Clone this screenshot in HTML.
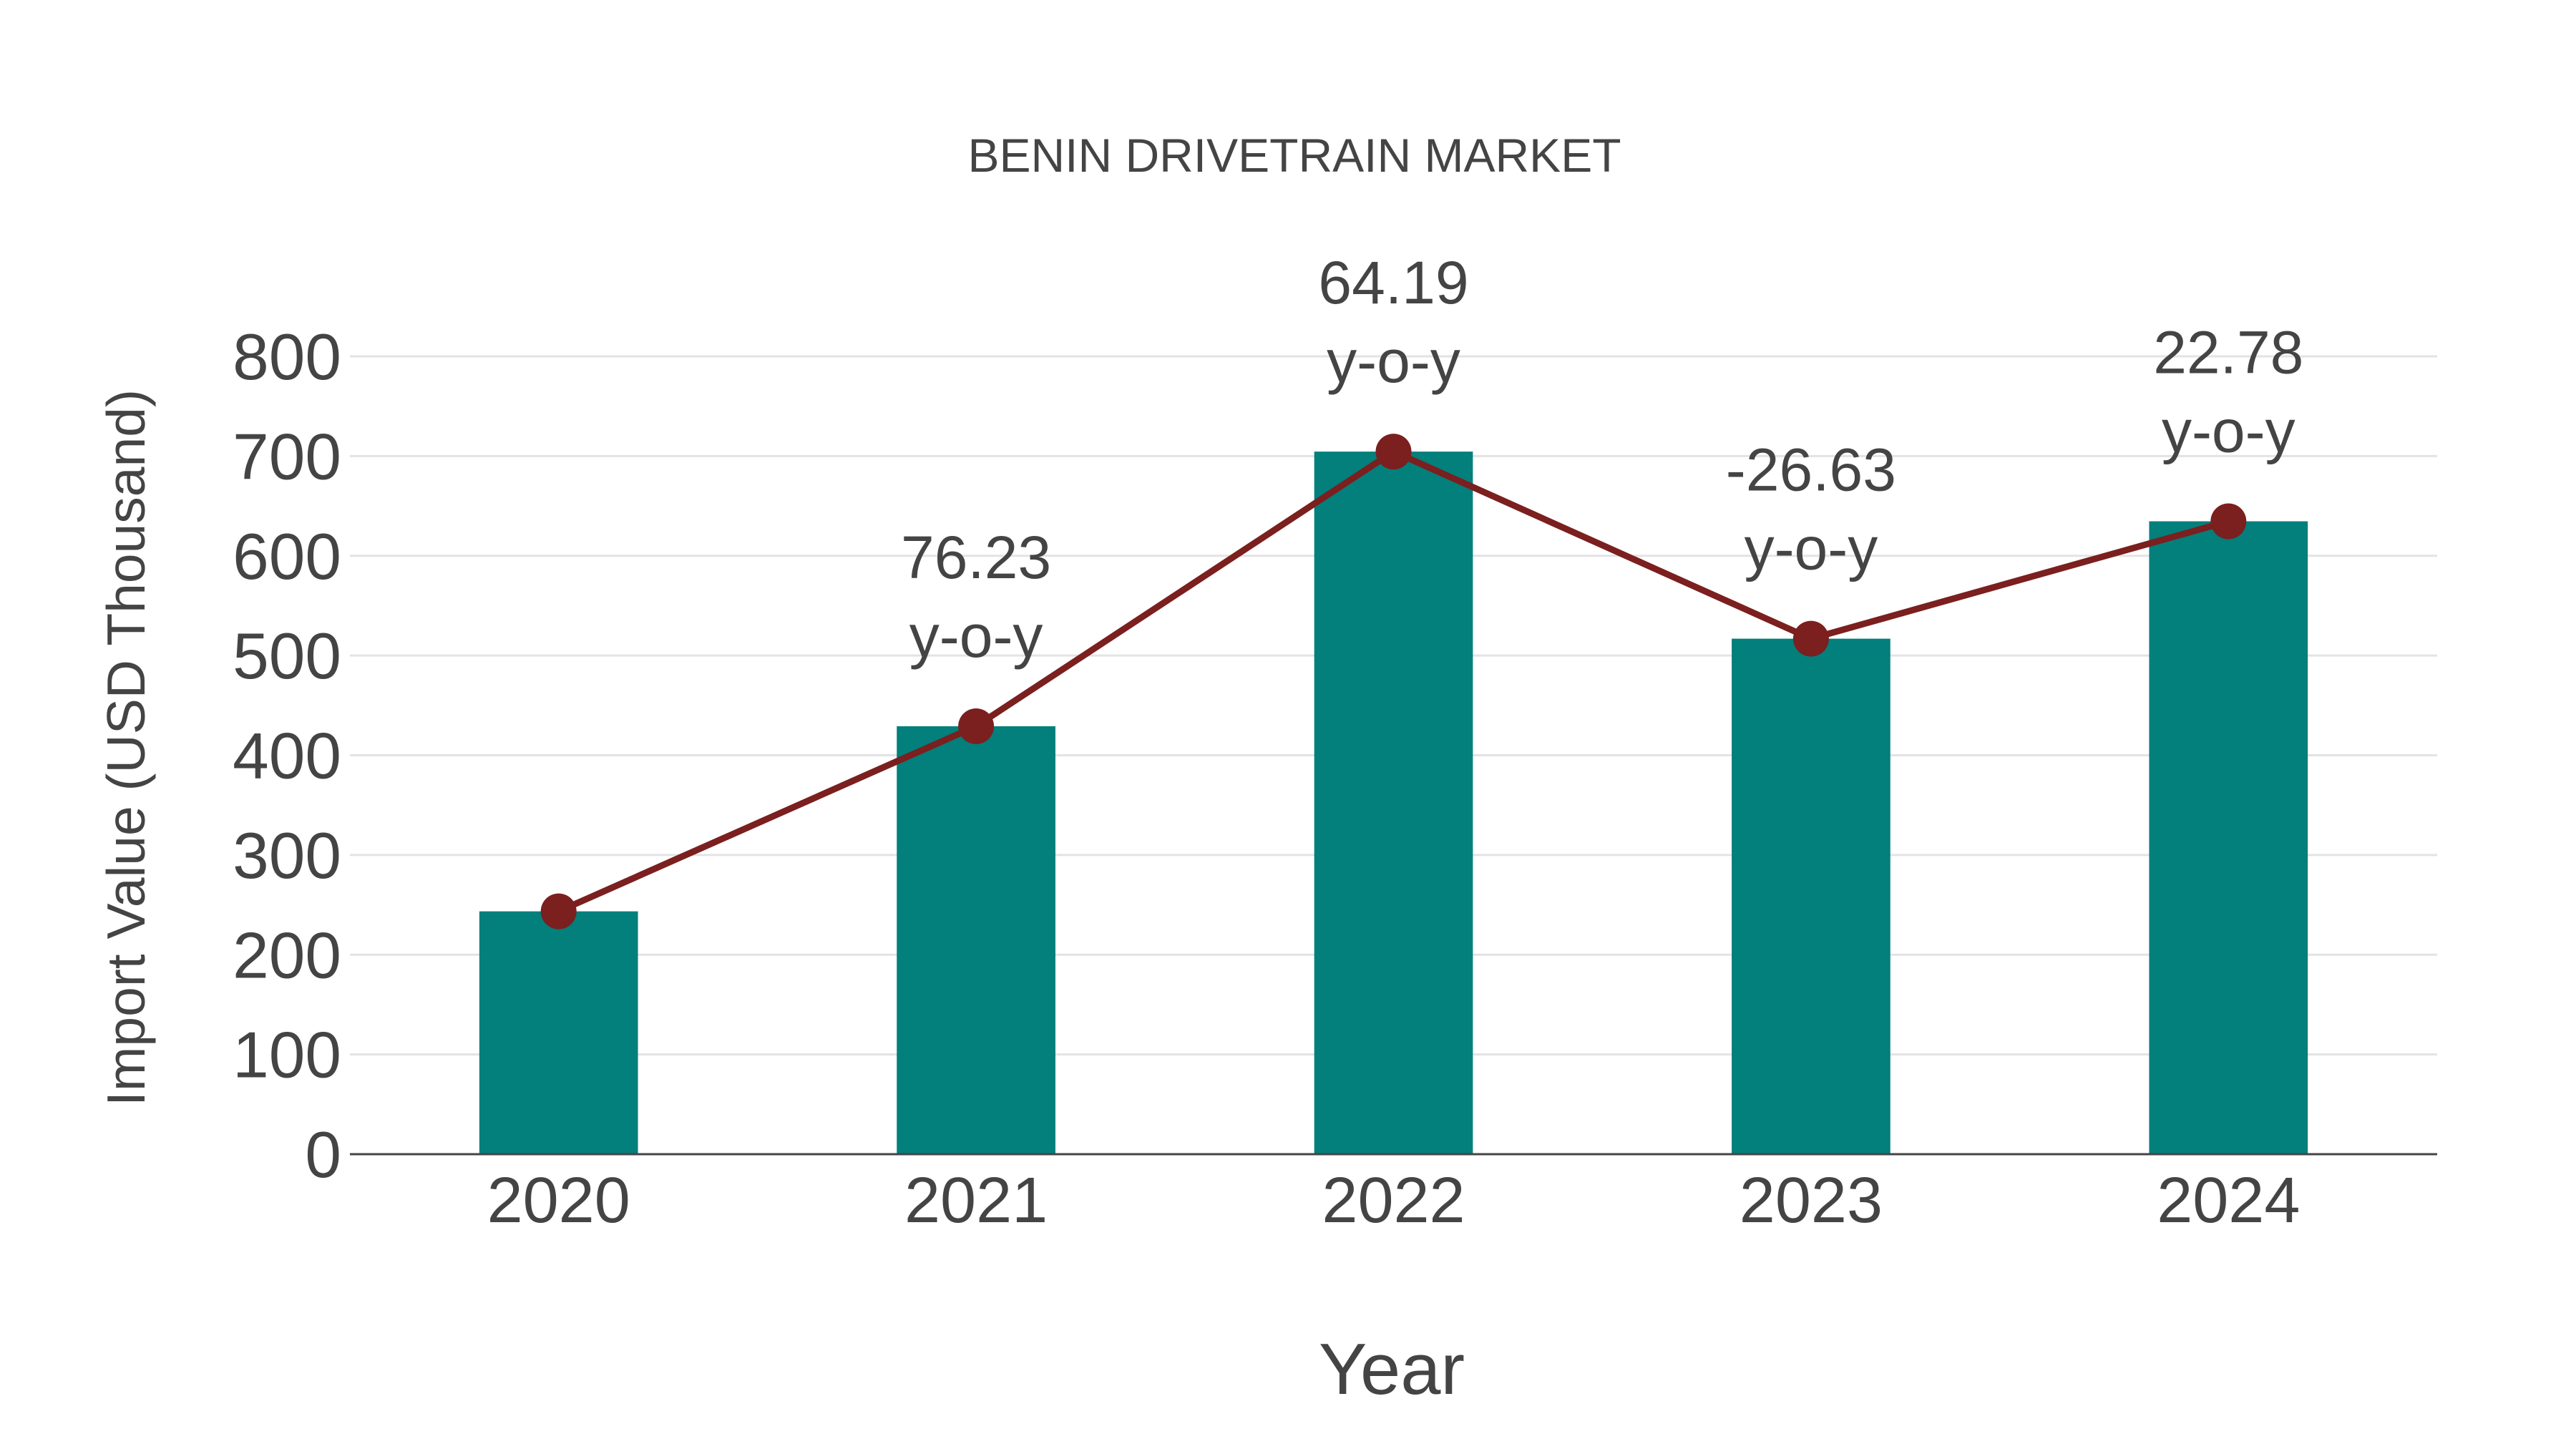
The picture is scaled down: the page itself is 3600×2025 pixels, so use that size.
<!DOCTYPE html>
<html><head><meta charset="utf-8"><style>
html,body{margin:0;padding:0;background:#fff;}
svg{display:block;font-family:"Liberation Sans",Arial,sans-serif;}
</style></head><body>
<svg id="chart" width="3600" height="2025" viewBox="0 0 3600 2025" xmlns="http://www.w3.org/2000/svg">
<rect width="3600" height="2025" fill="#fff"/>
<text x="1809" y="240" font-size="66" fill="#444" text-anchor="middle">BENIN DRIVETRAIN MARKET</text>
<g id="grid"></g>
<g id="yticks"></g>
<g id="bars"></g>
<line x1="489" x2="3406" y1="1613" y2="1613" stroke="#444" stroke-width="3"/>
<g id="xticks"></g>
<g id="line"></g>
<g id="annots"></g>
<text transform="translate(202,1045) rotate(-90)" font-size="75" fill="#444" text-anchor="middle">Import Value (USD Thousand)</text>
<text x="1945" y="1948" font-size="101" fill="#444" text-anchor="middle">Year</text>
</svg>
<script>
const categories = ["2020","2021","2022","2023","2024"];
const values = [243.5, 429.1, 704.5, 516.9, 634.6];
const yoyLabels = ["", "76.23", "64.19", "-26.63", "22.78"];
const yTicks = [0,100,200,300,400,500,600,700,800];

const NS="http://www.w3.org/2000/svg";
const left=489, right=3406, y0=1613, yTop=498, yMax=800;
const band=(right-left)/categories.length;
const xc=i=>left+band*(i+0.5);
const ys=v=>y0-(v/yMax)*(y0-yTop);
function mk(tag,attrs,parent){const e=document.createElementNS(NS,tag);for(const k in attrs)e.setAttribute(k,attrs[k]);parent.appendChild(e);return e;}
const grid=document.getElementById('grid'),yt=document.getElementById('yticks');
yTicks.forEach(t=>{
  if(t>0){const l=mk('line',{x1:left,x2:right,y1:ys(t),y2:ys(t),stroke:'#e3e3e3','stroke-width':3},grid);
  
  }
  const tx=mk('text',{x:left-12,y:ys(t)+32,'font-size':91,fill:'#444','text-anchor':'end'},yt);
  tx.textContent=t;
  
  
});
const bars=document.getElementById('bars'),xt=document.getElementById('xticks');
const bw=band*0.38;
categories.forEach((c,i)=>{
  const r=mk('rect',{x:xc(i)-bw/2,y:ys(values[i]),width:bw,height:y0-ys(values[i]),fill:'#037f7c'},bars);
  
  
  const t=mk('text',{x:xc(i),y:1708,'font-size':90,fill:'#444','text-anchor':'middle'},xt);
  t.textContent=c;
  
  
});
const lg=document.getElementById('line');
const pl=mk('polyline',{points:values.map((v,i)=>xc(i)+','+ys(v)).join(' '),fill:'none',stroke:'#7b1f1f','stroke-width':9,'stroke-linejoin':'round'},lg);


const an=document.getElementById('annots');
values.forEach((v,i)=>{
  const c=mk('circle',{cx:xc(i),cy:ys(v),r:25,fill:'#7b1f1f'},lg);
  
  
  if(yoyLabels[i]){
    const t1=mk('text',{x:xc(i),y:ys(v)-207,'font-size':84,fill:'#444','text-anchor':'middle'},an);
    t1.textContent=yoyLabels[i];
    
    
    const t2=mk('text',{x:xc(i),y:ys(v)-97,'font-size':84,fill:'#444','text-anchor':'middle'},an);
    t2.textContent='y-o-y';
    
    
  }
});
</script>
</body></html>
